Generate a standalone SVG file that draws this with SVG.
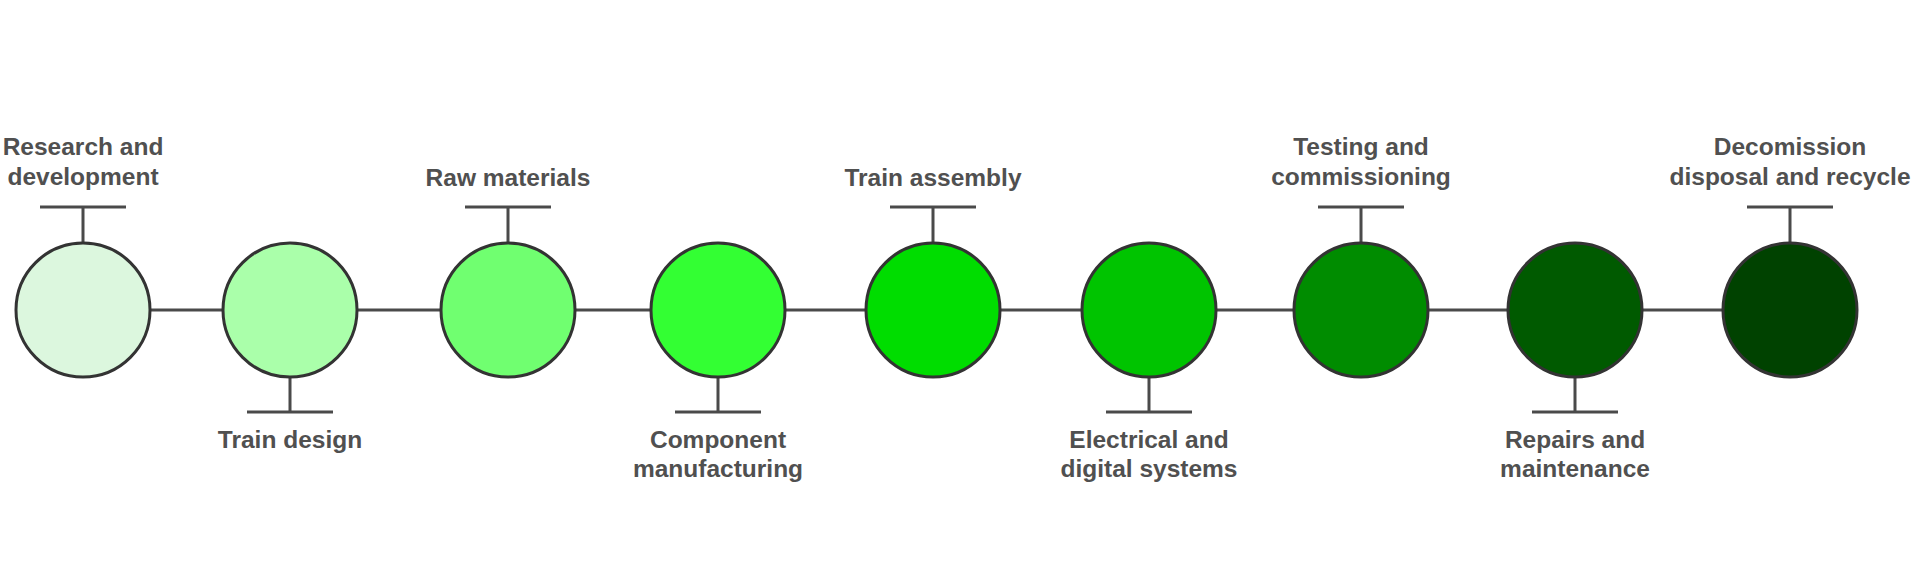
<svg xmlns="http://www.w3.org/2000/svg" width="1920" height="576" viewBox="0 0 1920 576">
<style>
.bg{fill:#ffffff}
.c{stroke:#333333;stroke-width:3}
.l{stroke:#4a4a4a;stroke-width:3;fill:none}
.t{font-family:"Liberation Sans",Arial,sans-serif;font-weight:bold;font-size:24.5px;fill:#505050;text-anchor:middle}
</style>
<rect class="bg" x="0" y="0" width="1920" height="576"/>
<g id="connectors">
<line class="l" x1="150" y1="310" x2="1723" y2="310"/>
<path class="l" d="M83 243V207M40 207H126"/>
<path class="l" d="M290 377V412M247 412H333"/>
<path class="l" d="M508 243V207M465 207H551"/>
<path class="l" d="M718 377V412M675 412H761"/>
<path class="l" d="M933 243V207M890 207H976"/>
<path class="l" d="M1149 377V412M1106 412H1192"/>
<path class="l" d="M1361 243V207M1318 207H1404"/>
<path class="l" d="M1575 377V412M1532 412H1618"/>
<path class="l" d="M1790 243V207M1747 207H1833"/>
</g>
<g id="n1"><circle class="c" cx="83" cy="310" r="67" fill="#dcf7de"/><text class="t" x="83" y="155">Research and</text><text class="t" x="83" y="185">development</text></g>
<g id="n2"><circle class="c" cx="290" cy="310" r="67" fill="#aaffaa"/><text class="t" x="290" y="448">Train design</text></g>
<g id="n3"><circle class="c" cx="508" cy="310" r="67" fill="#70ff70"/><text class="t" x="508" y="186">Raw materials</text></g>
<g id="n4"><circle class="c" cx="718" cy="310" r="67" fill="#33ff33"/><text class="t" x="718" y="448">Component</text><text class="t" x="718" y="477">manufacturing</text></g>
<g id="n5"><circle class="c" cx="933" cy="310" r="67" fill="#00dd00"/><text class="t" x="933" y="186">Train assembly</text></g>
<g id="n6"><circle class="c" cx="1149" cy="310" r="67" fill="#00c400"/><text class="t" x="1149" y="448">Electrical and</text><text class="t" x="1149" y="477">digital systems</text></g>
<g id="n7"><circle class="c" cx="1361" cy="310" r="67" fill="#008c00"/><text class="t" x="1361" y="155">Testing and</text><text class="t" x="1361" y="185">commissioning</text></g>
<g id="n8"><circle class="c" cx="1575" cy="310" r="67" fill="#005a00"/><text class="t" x="1575" y="448">Repairs and</text><text class="t" x="1575" y="477">maintenance</text></g>
<g id="n9"><circle class="c" cx="1790" cy="310" r="67" fill="#004200"/><text class="t" x="1790" y="155">Decomission</text><text class="t" x="1790" y="185">disposal and recycle</text></g>
</svg>
